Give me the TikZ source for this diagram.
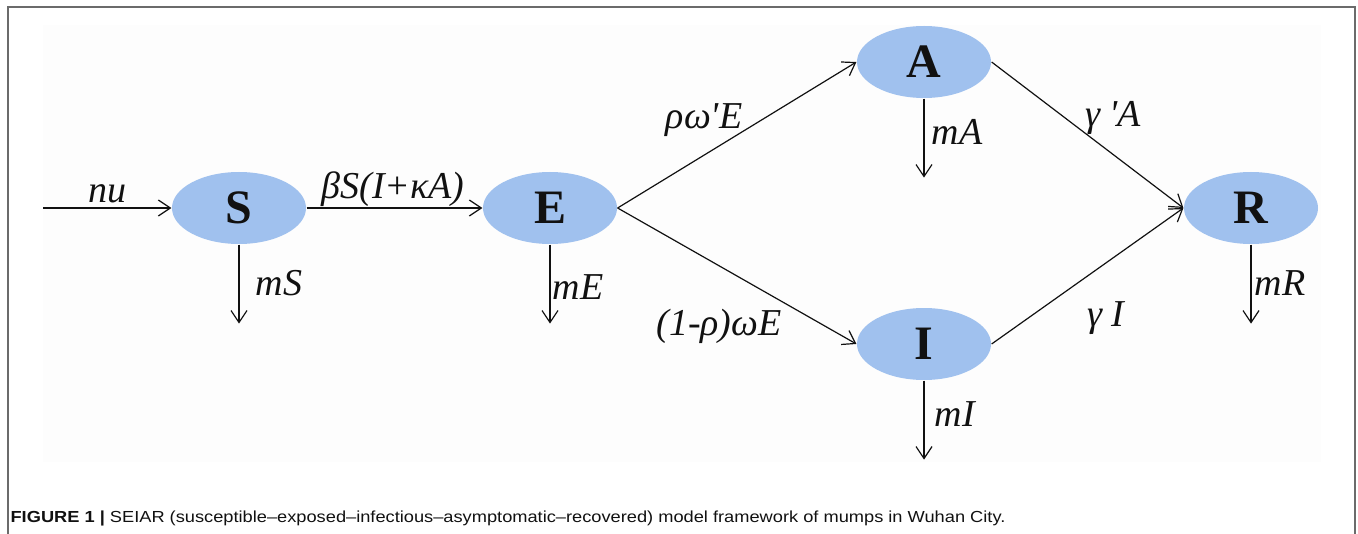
\documentclass[tikz,border=0pt]{standalone}
\usepackage{fontspec}
\setmainfont{Liberation Serif}
\newfontfamily\capfont[FakeStretch=1.14]{Liberation Sans}
\usetikzlibrary{arrows.meta,shapes.geometric,calc}
\definecolor{ink}{HTML}{111111}
\definecolor{rim}{HTML}{6B6B6B}
\definecolor{panel}{HTML}{FDFDFD}
\definecolor{state}{HTML}{A0C1EE}
\tikzset{
  every picture/.style={line width=0.6pt, draw=ink, text=ink},
  comp/.style={ellipse, fill=state, minimum width=67pt, minimum height=36pt, inner sep=0pt,
    font=\fontsize{24}{26}\selectfont\bfseries},
  rate/.style={font=\fontsize{19}{22}\selectfont\itshape, inner sep=0pt},
  flow/.style={-{Straight Barb[length=6pt, width=8pt]}, draw=ink},
}
\begin{document}
\begin{tikzpicture}[x=0.5pt, y=-0.5pt]
\useasboundingbox (0,0) rectangle (1358,534);
% frame and panel
\fill[panel] (43,25) rectangle (1321,462);
\draw[rim, line width=0.75pt] (8,534) -- (8,7) -- (1355,7) -- (1355,534);
% compartments
\node[comp] (S) at (239,208) {S};
\node[comp] (E) at (550,208) {E};
\node[comp] (A) at (924,62) {A};
\node[comp] (I) at (924,344) {I};
\node[comp] (R) at (1251,208) {R};
\coordinate (birth) at (43,208);
% transfers
\draw[flow] (birth) -- (S);
\draw[flow] (S) -- (E);
\draw[flow] (E.east) -- (A.west);
\draw[flow] (E.east) -- (I.west);
\draw[flow] (A.east) -- (R.west);
\draw[flow] (I.east) -- (R.west);
% deaths
\foreach \n in {S,E,A,I,R} {
  \coordinate (\n out) at ($(\n.south)+(0,79)$);
  \draw[flow] (\n.south) -- (\n out);
}
% rates
\node[rate] (nu) at (107,194) {nu};
\node[rate] (inf) at (393,189) {βS(I+κA)};
\node[rate] (toA) at (704,120) {ρω\textquotesingle E};
\node[rate] (toI) at (719,326) {(1-ρ)ωE};
\node[rate] (recA) at (1113,118) {γ \textquotesingle A};
\node[rate] (recI) at (1106,318) {γ I};
\node[rate] (mS) at (279,283) {mS};
\node[rate] (mE) at (578,287) {mE};
\node[rate] (mA) at (957,132) {mA};
\node[rate] (mI) at (955,414) {mI};
\node[rate] (mR) at (1280,283) {mR};
% caption
\node[anchor=west, inner sep=0pt, font=\capfont\fontsize{8}{10}\selectfont] (cap) at (10,518)
  {\textbf{FIGURE 1 |} SEIAR (susceptible–exposed–infectious–asymptomatic–recovered) model framework of mumps in Wuhan City.};
\end{tikzpicture}
\end{document}
